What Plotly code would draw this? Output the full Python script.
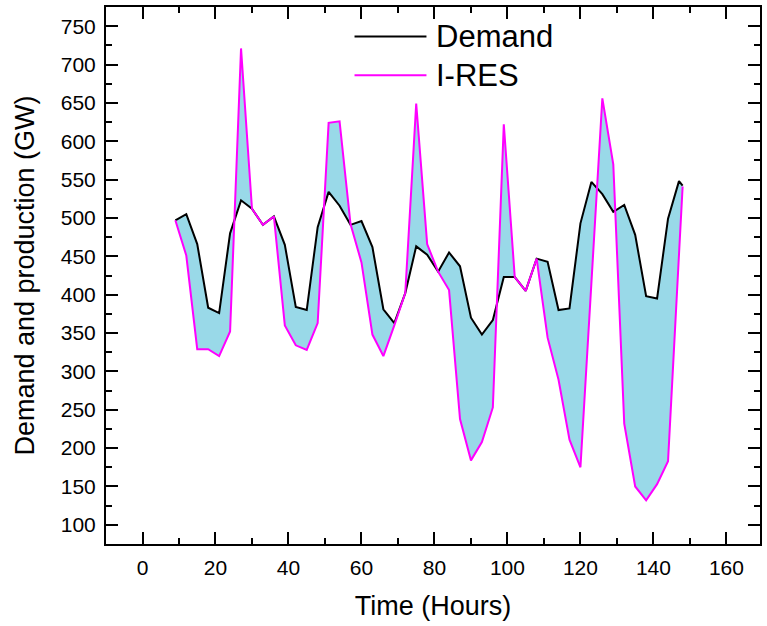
import plotly.graph_objects as go

hours = [9, 12, 15, 18, 21, 24, 27, 30, 33, 36, 39, 42, 45, 48, 51, 54, 57, 60,
         63, 66, 69, 72, 75, 78, 81, 84, 87, 90, 93, 96, 99, 102, 105, 108, 111,
         114, 117, 120, 123, 126, 129, 132, 135, 138, 141, 144, 147, 148]
demand = [497, 505, 466, 383, 376, 480, 523, 512, 491, 502, 465, 384, 380, 488,
          534, 516, 491, 496, 462, 381, 363, 402, 463, 452, 430, 455, 437, 370,
          348, 367, 423, 423, 405, 447, 443, 380, 382, 493, 547, 531, 508, 517,
          478, 398, 395, 499, 548, 542]
ires = [497, 451, 329, 329, 320, 352, 721, 512, 491, 502, 360, 334, 328, 363,
        624, 626, 492, 442, 348, 320, 360, 402, 649, 466, 430, 406, 238, 184,
        208, 253, 622, 423, 405, 447, 344, 289, 211, 175, 415, 656, 570, 232,
        150, 132, 153, 183, 452, 541]
series_names = ["Demand", "I-RES"]
colors = ["#000000", "#FF00FF"]
fill_color = "#99D9E8"
FONT = "Liberation Sans, Arial, sans-serif"

fig = go.Figure()
# fill between the two curves
fig.add_trace(go.Scatter(x=hours, y=demand, mode="lines", line=dict(width=0),
                         showlegend=False, hoverinfo="skip"))
fig.add_trace(go.Scatter(x=hours, y=ires, mode="lines", line=dict(width=0),
                         fill="tonexty", fillcolor=fill_color,
                         showlegend=False, hoverinfo="skip"))
# lines
fig.add_trace(go.Scatter(x=hours, y=demand, mode="lines", name=series_names[0],
                         line=dict(color=colors[0], width=2)))
fig.add_trace(go.Scatter(x=hours, y=ires, mode="lines", name=series_names[1],
                         line=dict(color=colors[1], width=2)))

# custom legend (long line samples)
leg_y = [0.945, 0.873]
for name, col, yy in zip(series_names, colors, leg_y):
    fig.add_shape(type="line", xref="paper", yref="paper",
                  x0=0.380, x1=0.490, y0=yy, y1=yy,
                  line=dict(color=col, width=2))
    fig.add_annotation(xref="paper", yref="paper", x=0.501, y=yy,
                       text=name, showarrow=False, xanchor="left",
                       yanchor="middle",
                       font=dict(family=FONT, size=31, color="#000000"))

axis_common = dict(showline=True, linewidth=2, linecolor="#000000", mirror="ticks",
                   ticks="inside", ticklen=12, tickwidth=2, tickcolor="#000000",
                   showgrid=False, zeroline=False,
                   tickfont=dict(family=FONT, size=21, color="#000000"),
                   minor=dict(ticks="inside", ticklen=6, tickwidth=2,
                              tickcolor="#000000", showgrid=False))

fig.update_xaxes(range=[-10, 169.2], tick0=0, dtick=20,
                 minor_dtick=10, ticklabelstandoff=4,
                 title=dict(text="Time (Hours)", standoff=18,
                            font=dict(family=FONT, size=27, color="#000000")),
                 **axis_common)
fig.update_yaxes(range=[75, 775], tick0=0, dtick=50,
                 minor_dtick=25, ticklabelstandoff=4,
                 title=dict(text="Demand and production (GW)", standoff=18,
                            font=dict(family=FONT, size=27, color="#000000")),
                 **axis_common)

fig.update_layout(width=767, height=626, showlegend=False,
                  margin=dict(l=106, r=6, t=5, b=82),
                  plot_bgcolor="#FFFFFF", paper_bgcolor="#FFFFFF",
                  font=dict(family=FONT, color="#000000"))

fig.write_html("out.html")
